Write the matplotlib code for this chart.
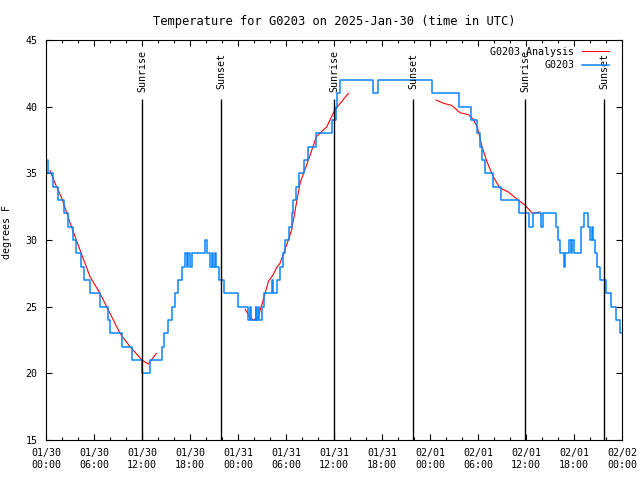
import matplotlib
matplotlib.use('Agg')
import matplotlib.pyplot as plt

plt.rcParams['font.family'] = 'DejaVu Sans Mono'
plt.rcParams['font.size'] = 7.2

# hours since 2025-01-30 00:00 UTC, observed temperature (deg F)
obs_hours = [0.0, 0.2, 0.9, 1.5, 2.3, 2.8, 3.4, 3.8, 4.4, 4.7, 5.5, 6.75, 7.8, 8.0,
             9.5, 10.7, 12.0, 13.0, 14.5, 14.8, 15.2, 15.8, 16.1, 16.5, 17.0, 17.4,
             17.6, 17.8, 18.0, 18.2, 19.9, 20.1, 20.5, 20.7, 20.9, 21.1, 21.3, 21.6,
             22.2, 24.0, 25.3, 25.5, 25.6, 26.2, 26.3, 26.5, 26.6, 27.0, 27.2, 28.2,
             28.4, 28.9, 29.3, 29.6, 29.9, 30.4, 30.7, 30.9, 31.2, 31.6, 32.2, 32.8,
             33.7, 35.8, 36.2, 36.4, 36.7, 40.9, 41.5, 48.3, 51.6, 53.1, 53.9, 54.2,
             54.5, 54.9, 55.9, 56.9, 59.1, 60.4, 60.9, 61.9, 62.1, 63.8, 64.0, 64.2,
             64.7, 64.9, 65.4, 65.6, 65.8, 66.0, 66.9, 67.2, 67.8, 68.0, 68.2, 68.4,
             68.6, 68.9, 69.3, 70.0, 70.6, 71.2, 71.7, 72.0]
obs_temp = [36, 35, 34, 33, 32, 31, 30, 29, 28, 27, 26, 25, 24, 23,
            22, 21, 20, 21, 22, 23, 24, 25, 26, 27, 28, 29,
            28, 29, 28, 29, 30, 29, 28, 29, 28, 29, 28, 27,
            26, 25, 24, 25, 24, 25, 24, 25, 24, 25, 26, 27,
            26, 27, 28, 29, 30, 31, 32, 33, 34, 35, 36, 37,
            38, 39, 40, 41, 42, 41, 42, 41, 40, 39, 38, 37,
            36, 35, 34, 33, 32, 31, 32, 31, 32, 31, 30, 29,
            28, 29, 30, 29, 30, 29, 31, 32, 31, 30, 31, 30,
            29, 28, 27, 26, 25, 24, 23, 23]

# analysis segments
ana1_hours = [0.5, 1.1, 2.0, 3.0, 4.25, 5.5, 6.75, 8.0, 9.25, 10.5, 12.0, 12.8, 13.8]
ana1_temp = [35.2, 34.3, 33.1, 31.3, 29.25, 27.25, 26.0, 24.5, 23.0, 22.0, 21.0, 20.7, 21.5]
ana2_hours = [24.9, 25.5, 25.9, 26.5, 27.2, 27.8, 28.4, 28.8, 29.25, 29.7, 30.3,
              30.7, 31.75, 32.8, 33.8, 35.1, 36.1, 37.8]
ana2_temp = [24.8, 24.2, 24.0, 24.2, 25.6, 26.9, 27.4, 27.9, 28.25, 29.0, 30.0,
             30.75, 34.25, 36.0, 37.75, 38.5, 39.75, 41.0]
ana3_hours = [48.75, 49.7, 50.7, 51.75, 52.8, 53.4, 53.9, 54.5, 55.1, 55.9, 56.75,
              57.8, 58.8, 59.9, 60.8, 61.75]
ana3_temp = [40.5, 40.25, 40.1, 39.55, 39.4, 39.05, 38.5, 37.0, 35.9, 34.75, 33.9,
             33.6, 33.1, 32.6, 32.0, 32.1]

sun_hours = [12.0, 21.875, 36.0, 45.875, 59.875, 69.75]
sun_names = ['Sunrise', 'Sunset', 'Sunrise', 'Sunset', 'Sunrise', 'Sunset']

xtick_hours = [0, 6, 12, 18, 24, 30, 36, 42, 48, 54, 60, 66, 72]
xtick_labels = ['01/30\n00:00', '01/30\n06:00', '01/30\n12:00', '01/30\n18:00',
                '01/31\n00:00', '01/31\n06:00', '01/31\n12:00', '01/31\n18:00',
                '02/01\n00:00', '02/01\n06:00', '02/01\n12:00', '02/01\n18:00',
                '02/02\n00:00']
ytick_vals = [15, 20, 25, 30, 35, 40, 45]

fig = plt.figure(figsize=(6.4, 4.8), dpi=100)
ax = fig.add_axes([46 / 640, 40 / 480, 576 / 640, 400 / 480])

red = '#ff0000'
blue = '#0a85ff'
ax.plot(ana1_hours, ana1_temp, color=red, lw=0.8, label='G0203 Analysis')
ax.plot(ana2_hours, ana2_temp, color=red, lw=0.8)
ax.plot(ana3_hours, ana3_temp, color=red, lw=0.8)
ax.step(obs_hours, obs_temp, where='post', color=blue, lw=1.1, label='G0203')

ax.vlines(sun_hours, 15, 40.6, color='black', lw=1)
for h, name in zip(sun_hours, sun_names):
    ax.text(h, 42.65, name, rotation=90, ha='center', va='center')

ax.set_xlim(0, 72)
ax.set_ylim(15, 45)
ax.set_xticks(xtick_hours)
ax.set_xticklabels(xtick_labels)
ax.set_xticks(range(0, 73, 2), minor=True)
ax.set_yticks(ytick_vals)
ax.tick_params(which='both', direction='in', top=True, right=True, width=0.8)
ax.tick_params(which='major', length=4.5, pad=6)
ax.tick_params(which='minor', length=2.5)
for s in ax.spines.values():
    s.set_linewidth(0.8)

ax.set_title('Temperature for G0203 on 2025-Jan-30 (time in UTC)', pad=11)
fig.text(7 / 640, 1 - 232 / 480, 'degrees F', rotation=90, ha='center', va='center')

ax.legend(loc='upper right', bbox_to_anchor=(0.99, 1.0), frameon=False,
          markerfirst=False, handlelength=2.7, borderaxespad=0.3,
          handletextpad=0.8, labelspacing=0.35)

fig.savefig('out.png', dpi=100)
